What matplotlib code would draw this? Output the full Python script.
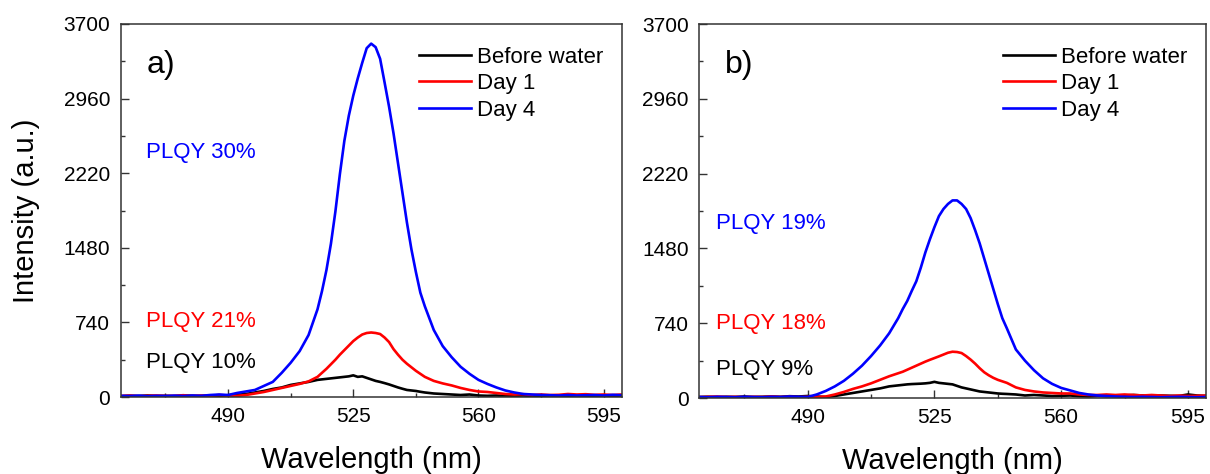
import numpy as np
import matplotlib
matplotlib.use("Agg")
import matplotlib.pyplot as plt
from matplotlib.ticker import MultipleLocator

plt.rcParams['font.family'] = ['Liberation Sans', 'DejaVu Sans']

# wavelength grid (nm), finer around the emission peak
wl = [460, 462.5, 465, 467.5, 470, 472.5, 475, 477.5, 480, 482.5, 485, 487.5,
      490, 492.5, 495, 497.5, 500, 502.5, 505, 507.5, 510, 512.5,
      515, 516.25, 517.5, 518.75, 520, 521.25, 522.5, 523.75, 525, 526.25,
      527.5, 528.75, 530, 531.25, 532.5, 533.75, 535, 536.25, 537.5, 538.75,
      540, 541.25, 542.5, 543.75, 545,
      547.5, 550, 552.5, 555, 557.5, 560, 562.5, 565, 567.5, 570, 572.5,
      575, 577.5, 580, 582.5, 585, 587.5, 590, 592.5, 595, 597.5, 600]

# panel a)
a_before = [8, 12, 10, 15, 10, 12, 8, 15, 12, 10, 15, 12,
            18, 22, 30, 45, 60, 80, 95, 120, 135, 150,
            170, 175, 180, 185, 190, 195, 200, 205, 215, 200,
            205, 190, 175, 160, 150, 138, 125, 110, 95, 82,
            70, 65, 60, 52, 45,
            35, 30, 25, 20, 25, 15, 12, 15, 10, 12, 15,
            10, 12, 15, 10, 12, 15, 12, 10, 15, 12, 15]
a_day1 = [10, 15, 8, 12, 15, 10, 12, 18, 10, 15, 12, 20,
          15, 12, 20, 35, 50, 70, 90, 110, 130, 155,
          200, 240, 280, 325, 370, 420, 465, 510, 555, 590,
          620, 635, 640, 635, 625, 590, 545, 475, 420, 370,
          330, 295, 260, 230, 200,
          160, 135, 115, 90, 70, 55, 50, 40, 30, 25, 28,
          20, 25, 20, 22, 30, 25, 28, 22, 25, 20, 25]
a_day4 = [12, 10, 14, 8, 12, 10, 14, 10, 15, 12, 20, 25,
          20, 40, 55, 70, 110, 150, 240, 340, 455, 615,
          870, 1050, 1260, 1520, 1840, 2210, 2540, 2790, 2990, 3160,
          3315, 3460, 3505, 3470, 3355, 3120, 2880, 2615, 2320, 2025,
          1730, 1465, 1240, 1035, 900,
          665, 505, 395, 300, 230, 170, 130, 95, 65, 45, 30,
          25, 20, 18, 15, 20, 15, 18, 20, 15, 22, 18]

# panel b)
b_before = [10, 12, 8, 12, 10, 15, 10, 12, 15, 12, 18, 15,
            20, 15, 10, 20, 35, 50, 65, 80, 95, 115,
            125, 130, 135, 138, 140, 142, 145, 150, 160, 150,
            145, 140, 135, 120, 105, 95, 85, 75, 65, 60,
            55, 50, 45, 42, 40,
            35, 25, 30, 25, 20, 22, 25, 18, 15, 20, 18,
            20, 25, 30, 25, 20, 25, 22, 20, 35, 25, 20]
b_day1 = [8, 12, 15, 10, 12, 8, 12, 10, 15, 10, 12, 8,
          12, 10, 15, 35, 60, 90, 115, 145, 180, 215,
          245, 260, 280, 300, 320, 340, 360, 378, 395, 412,
          430, 448, 458, 455, 445, 415, 380, 340, 295, 255,
          225, 200, 180, 165, 150,
          105, 80, 65, 55, 50, 45, 45, 35, 30, 30, 35,
          30, 35, 30, 25, 30, 25, 20, 25, 20, 22, 25]
b_day4 = [10, 8, 12, 10, 8, 12, 10, 8, 12, 10, 15, 12,
          10, 35, 70, 115, 170, 240, 320, 415, 520, 640,
          790, 880, 960, 1060, 1155, 1290, 1440, 1570, 1690, 1800,
          1870, 1920, 1955, 1955, 1920, 1870, 1780, 1660, 1530, 1380,
          1230, 1080, 930, 790, 690,
          480, 370, 275, 195, 140, 100, 75, 50, 35, 25, 20,
          15, 12, 10, 12, 10, 8, 10, 12, 10, 8, 10]

series_labels = ["Before water", "Day 1", "Day 4"]
series_colors = ["black", "#ff0000", "#0000ff"]

panels = [
    ("a)", [a_before, a_day1, a_day4], ["PLQY 10%", "PLQY 21%", "PLQY 30%"], [340, 745, 2430]),
    ("b)", [b_before, b_day1, b_day4], ["PLQY 9%", "PLQY 18%", "PLQY 19%"], [287, 740, 1730]),
]
axes_pos = [[0.0998, 0.1624, 0.4139, 0.787], [0.5777, 0.1603, 0.419, 0.789]]
text_x = [467.1, 464.7]

fig = plt.figure(figsize=(12.1, 4.74), dpi=100)

for i, (tag, ys, plqy, plqy_y) in enumerate(panels):
    ax = fig.add_axes(axes_pos[i])
    for y, lab, c in zip(ys, series_labels, series_colors):
        ax.plot(wl, y, color=c, lw=1.9, label=lab)
    ax.set_xlim(460, 600)
    ax.set_ylim(0, 3700)
    ax.set_xticks([490, 525, 560, 595])
    ax.xaxis.set_minor_locator(MultipleLocator(17.5))
    ax.set_yticks([0, 740, 1480, 2220, 2960, 3700])
    ax.yaxis.set_minor_locator(MultipleLocator(370))
    ax.tick_params(which='both', direction='in', labelsize=15, width=1.0,
                   color='#333333', pad=7.5)
    ax.tick_params(which='major', length=6)
    ax.tick_params(which='minor', length=3)
    for s in ax.spines.values():
        s.set_linewidth(1.1)
        s.set_color('#333333')
    ax.set_xlabel("Wavelength (nm)", fontsize=21, labelpad=14)
    if i == 0:
        ax.set_ylabel("Intensity (a.u.)", fontsize=21, labelpad=17)
    ax.text(0.052, 0.89, tag, transform=ax.transAxes, fontsize=23, va='center', ha='left')
    for t, yy, c in zip(plqy, plqy_y, series_colors):
        ax.text(text_x[i], yy, t, color=c, fontsize=16, va='center', ha='left')
    ax.legend(loc='upper right', bbox_to_anchor=(0.99, 0.975), frameon=False, fontsize=16,
              handlelength=2.35, handletextpad=0.27, labelspacing=0.25, borderaxespad=0.2)

fig.savefig("out.png", dpi=100)
